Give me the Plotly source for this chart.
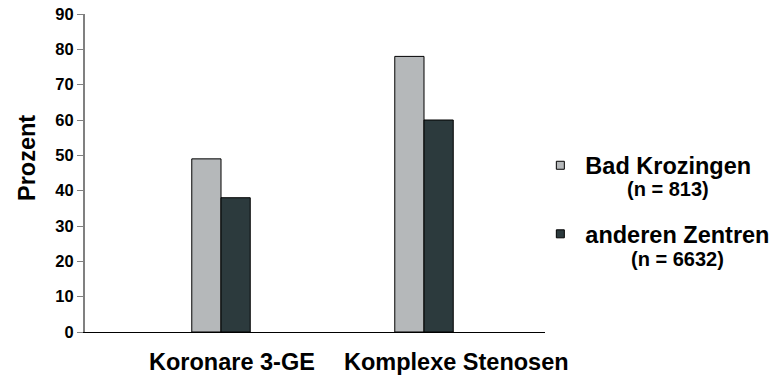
import plotly.graph_objects as go

categories = ["Koronare 3-GE", "Komplexe Stenosen"]
series_names = ["Bad Krozingen", "anderen Zentren"]
series_n = ["(n = 813)", "(n = 6632)"]
bad_krozingen = [49, 78]
andere_zentren = [38, 60]
colors = ["#b5b8ba", "#2c3a3d"]
y_ticks = [0, 10, 20, 30, 40, 50, 60, 70, 80, 90]

FONT = "Liberation Sans, Arial, sans-serif"
xpos = list(range(len(categories)))
bw = 0.144

# plot area in pixels (for placing annotations)
L, R, T, B = 85, 545, 14, 332

def px_x(px):
    return (px - L) / (R - L)

def px_y(py):
    return (B - py) / (B - T)

fig = go.Figure()
for vals, name, col, off in [(bad_krozingen, series_names[0], colors[0], -bw),
                              (andere_zentren, series_names[1], colors[1], 0.0)]:
    fig.add_trace(go.Bar(x=xpos, y=vals, name=name, width=bw, offset=off,
                         marker=dict(color=col, line=dict(color="#000000", width=1)),
                         showlegend=False))
    fig.add_trace(go.Scatter(x=[None], y=[None], mode="markers", name="<b>" + name + "</b>",
                             legendgroup=name,
                             marker=dict(symbol="square", size=8, color=col,
                                         line=dict(color="#000000", width=1))))

fig.update_layout(
    width=775, height=377,
    margin=dict(l=L, r=775 - R, t=T, b=377 - B, autoexpand=False),
    paper_bgcolor="white", plot_bgcolor="white",
    font=dict(family=FONT, color="#000000"),
    barmode="overlay",
    showlegend=True,
    legend=dict(x=0.979, y=px_y(200), xanchor="left", yanchor="middle",
                font=dict(size=23.5, family=FONT, color="#000000"),
                tracegroupgap=35, itemwidth=40, bgcolor="rgba(0,0,0,0)"),
    xaxis=dict(range=[-0.67, 1.596], tickvals=xpos, ticktext=["", ""],
               showline=True, linecolor="#000000", linewidth=1,
               showgrid=False, zeroline=False, ticks="", fixedrange=True),
    yaxis=dict(range=[0, 90], tickvals=y_ticks,
               ticktext=["<b>%d</b>" % v for v in y_ticks],
               showline=True, linecolor="#808080", linewidth=2,
               ticks="outside", ticklen=6, tickcolor="#808080",
               showgrid=False, zeroline=False,
               tickfont=dict(size=16.5, family=FONT, color="#000000")),
)

# y-axis title
fig.add_annotation(x=px_x(27), xref="paper", y=px_y(158), yref="paper",
                   text="<b>Prozent</b>", textangle=-90, showarrow=False,
                   xanchor="center", yanchor="middle",
                   font=dict(size=23.5, family=FONT, color="#000000"))

# category labels
label_shift = [0.054, 0.158]
for i, cat in enumerate(categories):
    fig.add_annotation(x=xpos[i] + label_shift[i], xref="x", y=px_y(362), yref="paper",
                       text="<b>" + cat + "</b>", showarrow=False,
                       xanchor="center", yanchor="middle",
                       font=dict(size=23.5, family=FONT, color="#000000"))

# legend sample sizes
n_pos = [(668, 189), (677, 259)]
for (px, py), txt in zip(n_pos, series_n):
    fig.add_annotation(x=px_x(px), xref="paper", y=px_y(py), yref="paper",
                       text="<b>" + txt + "</b>", showarrow=False,
                       xanchor="center", yanchor="middle",
                       font=dict(size=20, family=FONT, color="#000000"))

fig.write_html("out.html")
